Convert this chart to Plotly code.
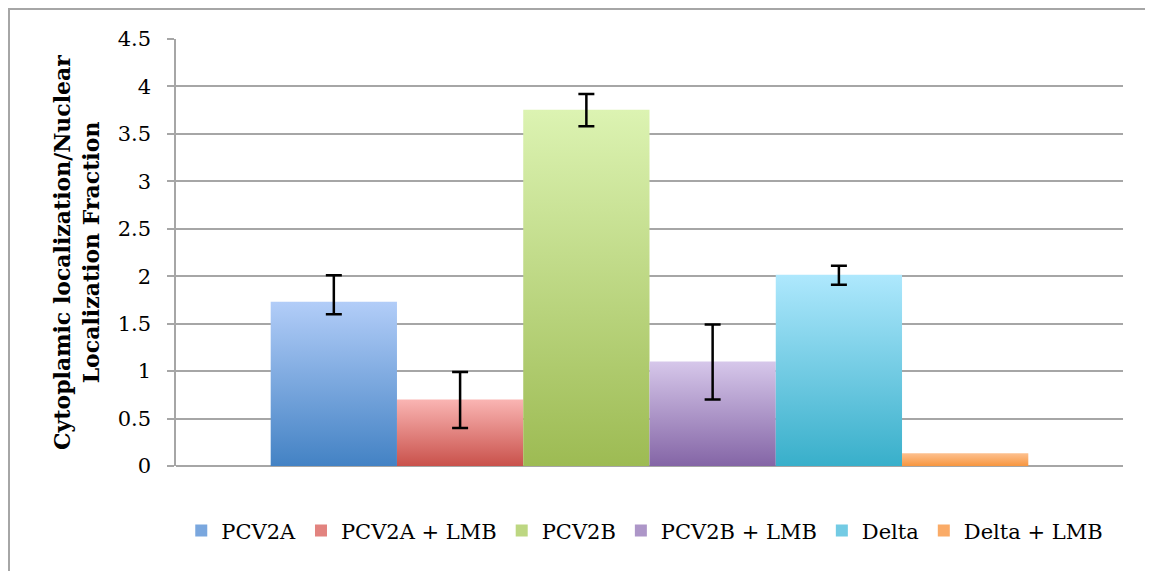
import plotly.graph_objects as go

series = ["PCV2A", "PCV2A + LMB", "PCV2B", "PCV2B + LMB", "Delta", "Delta + LMB"]
values = [1.73, 0.70, 3.755, 1.10, 2.015, 0.135]
err_plus = [0.28, 0.29, 0.165, 0.39, 0.095, 0.0]
err_minus = [0.13, 0.30, 0.175, 0.40, 0.105, 0.0]
top_colors = ["#b2cdf8", "#fab5b3", "#dcf3b2", "#d6c7ea", "#aee8fd", "#fdc190"]
bottom_colors = ["#4382c4", "#c9514b", "#9dbb53", "#8465a6", "#38afca", "#f7963f"]
mid_colors = ["#7aa7de", "#e2837f", "#bdd782", "#ad96c8", "#73cbe4", "#faab67"]
y_ticks = [0, 0.5, 1, 1.5, 2, 2.5, 3, 3.5, 4, 4.5]

FONT = "DejaVu Serif"
n = len(series)
group_width = 0.8
bw = group_width / n

fig = go.Figure()
centers = []
for i, (name, v) in enumerate(zip(series, values)):
    x0 = -group_width / 2 + i * bw
    x1 = x0 + bw
    centers.append((x0 + x1) / 2)
    fig.add_trace(go.Scatter(
        x=[x0, x0, x1, x1, x0], y=[0, v, v, 0, 0],
        mode="lines", fill="toself", name=name, showlegend=False,
        line=dict(width=0, color=bottom_colors[i]),
        fillcolor=bottom_colors[i],
        fillgradient=dict(type="vertical",
                          colorscale=[[0, bottom_colors[i]], [1, top_colors[i]]]),
        hoverinfo="skip",
    ))

# legend entries (square swatches)
for i, name in enumerate(series):
    fig.add_trace(go.Bar(x=[None], y=[None], name=name,
                         marker=dict(color=mid_colors[i], line=dict(width=0))))

fig.add_trace(go.Scatter(
    x=centers[:5], y=values[:5], mode="markers",
    marker=dict(size=1, color="rgba(0,0,0,0)"),
    error_y=dict(type="data", symmetric=False, array=err_plus[:5],
                 arrayminus=err_minus[:5], color="black", thickness=2.5, width=8),
    showlegend=False, hoverinfo="skip",
))

fig.update_layout(
    width=1145, height=563,
    margin=dict(l=168, r=30, t=31, b=105),
    paper_bgcolor="white", plot_bgcolor="white",
    font=dict(family=FONT, size=20, color="black"),
    xaxis=dict(range=[-0.5, 0.5], showticklabels=False, showgrid=False,
               zeroline=False, showline=False, ticks=""),
    yaxis=dict(range=[0, 4.5], tickvals=y_ticks,
               ticktext=[f"{t:g}" for t in y_ticks],
               showgrid=True, gridcolor="#a6a6a6", gridwidth=1.5,
               zeroline=True, zerolinecolor="#a6a6a6", zerolinewidth=1.5,
               showline=True, linecolor="#a6a6a6", linewidth=1.5,
               ticks="outside", ticklen=7, tickcolor="#a6a6a6", tickwidth=1.5,
               ticklabelstandoff=12,
               tickfont=dict(family=FONT, size=21),
               title=dict(text="<b>Cytoplamic localization/Nuclear<br>Localization Fraction</b>",
                          font=dict(family=FONT, size=22), standoff=12)),
    legend=dict(orientation="h", x=0.495, xanchor="center", y=-0.152, yanchor="middle",
                font=dict(family=FONT, size=21), traceorder="normal"),
    shapes=[dict(type="rect", xref="paper", yref="paper",
                 x0=-167 / 947, x1=1.1, y0=-0.4, y1=457 / 427,
                 line=dict(color="#a6a6a6", width=2), fillcolor="rgba(0,0,0,0)",
                 layer="below")],
)

fig.write_html("out.html")
